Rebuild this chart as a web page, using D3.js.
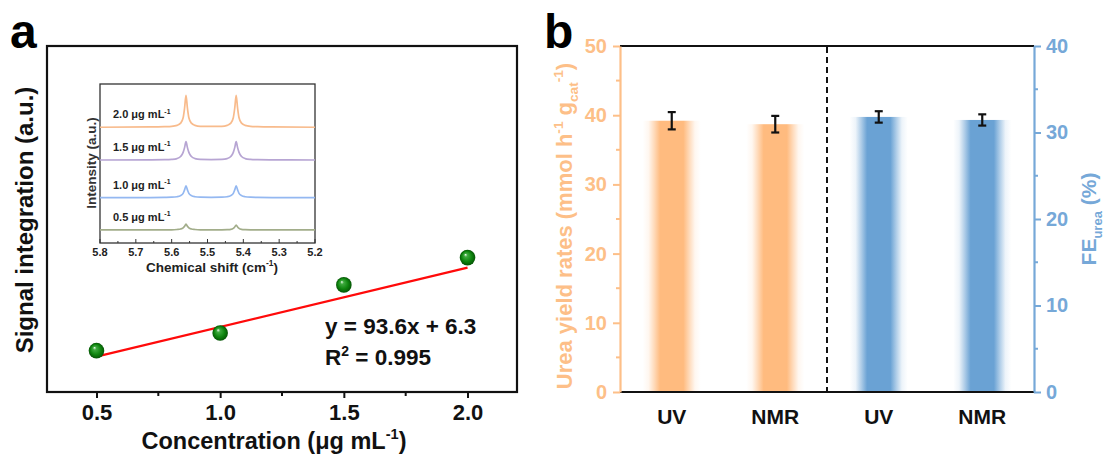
<!DOCTYPE html>
<html lang="en">
<head>
  <meta charset="UTF-8">
  <title>Urea calibration and yield</title>
  <script src="https://d3js.org/d3.v7.min.js"></script>
  <style>
    body, html {
      margin: 0;
      background-color: #ffffff;
    }
    svg text {
      font-family: Arial, 'Liberation Sans', sans-serif;
    }
  </style>
</head>
<body>
<svg id="chart" width="1105" height="457"></svg>

<script>
  // ---- panel a: calibration points ----
  const concentrations = [0.5, 1.0, 1.5, 2.0];
  const signals = [62.6, 90.4, 166.3, 209.3];
  const fitSlope = 93.6;
  const fitIntercept = 6.3;
  const xTicksA = [0.5, 1.0, 1.5, 2.0];

  // ---- panel a inset: NMR spectra (chemical shift grid + traces) ----
  const shifts = [5.80, 5.66, 5.62, 5.60, 5.585, 5.575, 5.568, 5.564, 5.56, 5.556, 5.552, 5.545, 5.535, 5.52, 5.49,
                  5.46, 5.445, 5.435, 5.428, 5.424, 5.42, 5.416, 5.412, 5.405, 5.395, 5.38, 5.36, 5.32, 5.20];
  const trace20 = [72.8, 73.0, 73.2, 73.4, 74.0, 75.4, 78.8, 84.8, 92.8, 84.8, 78.8, 75.4, 74.0, 73.4, 73.4,
                   73.4, 74.0, 75.4, 78.8, 84.8, 92.8, 84.8, 78.8, 75.4, 74.0, 73.4, 73.2, 73.0, 72.8];
  const trace15 = [52.2, 52.3, 52.4, 52.6, 53.1, 54.4, 57.0, 60.0, 63.7, 60.0, 57.0, 54.4, 53.1, 52.6, 52.5,
                   52.6, 53.1, 54.4, 57.0, 60.0, 63.7, 60.0, 57.0, 54.4, 53.1, 52.6, 52.4, 52.3, 52.2];
  const trace10 = [28.5, 28.6, 28.7, 28.8, 29.1, 29.8, 31.2, 33.4, 36.0, 33.4, 31.2, 29.8, 29.1, 28.8, 28.7,
                   28.8, 29.1, 29.8, 31.2, 33.4, 36.0, 33.4, 31.2, 29.8, 29.1, 28.8, 28.7, 28.6, 28.5];
  const trace05 = [8.2, 8.2, 8.3, 8.3, 8.5, 8.8, 9.5, 10.5, 11.9, 10.5, 9.5, 8.8, 8.5, 8.3, 8.3,
                   8.3, 8.4, 8.6, 9.2, 10.1, 11.3, 10.1, 9.2, 8.6, 8.4, 8.3, 8.3, 8.2, 8.2];
  const traceLabels = ["2.0", "1.5", "1.0", "0.5"];
  const traceColors = ["#f8bb8c", "#b7a5d3", "#94b8f1", "#a2ad8a"];
  const insetTicks = [5.8, 5.7, 5.6, 5.5, 5.4, 5.3, 5.2];

  // ---- panel b: yield rate and FE ----
  const methods = ["UV", "NMR", "UV", "NMR"];
  const yieldRates = [39.2, 38.7];
  const yieldErr = [1.25, 1.2];
  const feValues = [31.8, 31.45];
  const feErr = [0.66, 0.65];

  const orange = "#fdbf88";
  const orangeBar = "#ffbb7f";
  const blue = "#76a8d8";
  const blueBar = "#6aa2d4";

  const svg = d3.select("#chart");
  const defs = svg.append("defs");

  // helper for text with super/subscripts
  function rich(text, parts, size) {
    let shift = 0;
    parts.forEach(p => {
      const target = p.sup ? -0.42 * size : p.sub ? 0.28 * size : 0;
      text.append("tspan")
        .attr("dy", target - shift)
        .attr("font-size", p.sup || p.sub ? size * 0.62 : size)
        .text(p.t);
      shift = target;
    });
    return text;
  }

  // ================= panel a =================
  const xA = d3.scaleLinear().domain([0.3, 2.2]).range([47, 517]);
  const yA = d3.scaleLinear().domain([-2.6, 543]).range([392, 46]);

  const gA = svg.append("g");

  gA.append("rect")
    .attr("x", xA.range()[0]).attr("y", yA.range()[1])
    .attr("width", xA.range()[1] - xA.range()[0])
    .attr("height", yA.range()[0] - yA.range()[1])
    .attr("fill", "none").attr("stroke", "#111").attr("stroke-width", 2.2);

  const axA = gA.append("g")
    .attr("transform", `translate(0,${yA.range()[0]})`)
    .call(d3.axisBottom(xA).tickValues(xTicksA).tickFormat(d3.format(".1f")).tickSize(6).tickPadding(6));
  axA.select(".domain").remove();
  axA.selectAll(".tick line").attr("stroke", "#111").attr("stroke-width", 2);
  axA.selectAll(".tick text").attr("font-size", 22).attr("font-weight", "bold").attr("fill", "#111")
    .attr("font-family", "Arial, 'Liberation Sans', sans-serif");

  // minor ticks
  gA.selectAll(".minorA").data([0.75, 1.25, 1.75]).join("line")
    .attr("x1", d => xA(d)).attr("x2", d => xA(d))
    .attr("y1", yA.range()[0]).attr("y2", yA.range()[0] + 4)
    .attr("stroke", "#111").attr("stroke-width", 2);

  rich(gA.append("text")
    .attr("x", 274).attr("y", 449)
    .attr("text-anchor", "middle").attr("font-weight", "bold").attr("fill", "#111"),
    [{t: "Concentration (μg mL"}, {t: "-1", sup: true}, {t: ")"}], 23.5);

  gA.append("text")
    .attr("transform", "translate(33,220) rotate(-90)")
    .attr("text-anchor", "middle").attr("font-weight", "bold").attr("fill", "#111")
    .attr("font-size", 24)
    .text("Signal integration (a.u.)");

  // fit line
  gA.append("line")
    .attr("x1", xA(concentrations[0])).attr("y1", yA(fitSlope * concentrations[0] + fitIntercept))
    .attr("x2", xA(concentrations[3])).attr("y2", yA(fitSlope * concentrations[3] + fitIntercept))
    .attr("stroke", "#ff0a0a").attr("stroke-width", 2.2);

  // sphere markers
  const sphere = defs.append("radialGradient").attr("id", "sphere")
    .attr("cx", "50%").attr("cy", "50%").attr("r", "50%").attr("fx", "36%").attr("fy", "30%");
  sphere.append("stop").attr("offset", "0%").attr("stop-color", "#f2fff2");
  sphere.append("stop").attr("offset", "22%").attr("stop-color", "#3faa3f");
  sphere.append("stop").attr("offset", "65%").attr("stop-color", "#0f860f");
  sphere.append("stop").attr("offset", "100%").attr("stop-color", "#055505");

  gA.selectAll(".pt").data(concentrations).join("circle")
    .attr("cx", d => xA(d)).attr("cy", (d, i) => yA(signals[i]))
    .attr("r", 7.8).attr("fill", "url(#sphere)");

  gA.append("text").attr("x", 325).attr("y", 334)
    .attr("font-size", 22.5).attr("font-weight", "bold").attr("fill", "#111")
    .text(`y = ${fitSlope}x + ${fitIntercept}`);
  rich(gA.append("text").attr("x", 325).attr("y", 365).attr("font-weight", "bold").attr("fill", "#111"),
    [{t: "R"}, {t: "2", sup: true}, {t: " = 0.995"}], 22.5);

  // ---- inset ----
  const xI = d3.scaleLinear().domain([5.8, 5.2]).range([100, 315]);
  const yI = d3.scaleLinear().domain([0, 100]).range([243, 84]);

  const gI = svg.append("g");
  gI.append("rect")
    .attr("x", 100).attr("y", 84).attr("width", 215).attr("height", 159)
    .attr("fill", "none").attr("stroke", "#333").attr("stroke-width", 1.3);

  gI.selectAll(".itick").data(d3.range(0, 13).map(i => 5.8 - i * 0.05)).join("line")
    .attr("x1", d => xI(d)).attr("x2", d => xI(d))
    .attr("y1", 243).attr("y2", (d, i) => i % 2 === 0 ? 239 : 241)
    .attr("stroke", "#333").attr("stroke-width", 1);

  gI.selectAll(".ilab").data(insetTicks).join("text")
    .attr("x", d => xI(d)).attr("y", 256)
    .attr("text-anchor", "middle").attr("font-size", 11).attr("font-weight", "bold").attr("fill", "#222")
    .text(d => d.toFixed(1));

  rich(gI.append("text").attr("x", 212).attr("y", 272)
    .attr("text-anchor", "middle").attr("font-weight", "bold").attr("fill", "#222"),
    [{t: "Chemical shift (cm"}, {t: "-1", sup: true}, {t: ")"}], 13.5);

  gI.append("text")
    .attr("transform", "translate(96,163) rotate(-90)")
    .attr("text-anchor", "middle").attr("font-size", 13.5).attr("font-weight", 600).attr("fill", "#333")
    .text("Intensity (a.u.)");

  const spectrum = d3.line()
    .x((d, i) => xI(shifts[i]))
    .y(d => yI(d))
    .curve(d3.curveMonotoneX);

  const traces = [trace20, trace15, trace10, trace05];
  gI.selectAll(".trace").data(traces).join("path")
    .attr("d", spectrum)
    .attr("fill", "none")
    .attr("stroke", (d, i) => traceColors[i])
    .attr("stroke-width", 1.7);

  traces.forEach((tr, i) => {
    rich(gI.append("text").attr("x", 113).attr("y", yI(tr[0]) - 9)
      .attr("font-weight", "bold").attr("fill", "#222"),
      [{t: `${traceLabels[i]} μg mL`}, {t: "-1", sup: true}], 11);
  });

  // ================= panel b =================
  const xB = d3.scaleBand().domain(d3.range(methods.length)).range([620, 1034]);
  const yL = d3.scaleLinear().domain([0, 50]).range([392, 46]);
  const yR = d3.scaleLinear().domain([0, 40]).range([392, 46]);

  const gB = svg.append("g");

  // fading bar gradients
  [["fadeOrange", orangeBar], ["fadeBlue", blueBar]].forEach(([id, c]) => {
    const lg = defs.append("linearGradient").attr("id", id).attr("x1", "0%").attr("x2", "100%");
    [[0, 0], [0.1, 0.12], [0.2, 0.55], [0.3, 1], [0.7, 1], [0.8, 0.55], [0.9, 0.12], [1, 0]].forEach(([o, a]) => {
      lg.append("stop").attr("offset", o).attr("stop-color", c).attr("stop-opacity", a);
    });
  });

  const barW = 58;
  const bars = [
    {i: 0, v: yieldRates[0], e: yieldErr[0], y: yL, fill: "url(#fadeOrange)"},
    {i: 1, v: yieldRates[1], e: yieldErr[1], y: yL, fill: "url(#fadeOrange)"},
    {i: 2, v: feValues[0], e: feErr[0], y: yR, fill: "url(#fadeBlue)"},
    {i: 3, v: feValues[1], e: feErr[1], y: yR, fill: "url(#fadeBlue)"}
  ];
  const cx = i => xB(i) + xB.bandwidth() / 2;

  gB.selectAll(".bar").data(bars).join("rect")
    .attr("x", d => cx(d.i) - barW / 2).attr("width", barW)
    .attr("y", d => d.y(d.v)).attr("height", d => d.y(0) - d.y(d.v))
    .attr("fill", d => d.fill);

  // error bars
  const eb = gB.selectAll(".err").data(bars).join("g").attr("stroke", "#111").attr("stroke-width", 2.2);
  eb.append("line").attr("x1", d => cx(d.i)).attr("x2", d => cx(d.i))
    .attr("y1", d => d.y(d.v - d.e)).attr("y2", d => d.y(d.v + d.e));
  eb.append("line").attr("x1", d => cx(d.i) - 4).attr("x2", d => cx(d.i) + 4)
    .attr("y1", d => d.y(d.v + d.e)).attr("y2", d => d.y(d.v + d.e));
  eb.append("line").attr("x1", d => cx(d.i) - 4).attr("x2", d => cx(d.i) + 4)
    .attr("y1", d => d.y(d.v - d.e)).attr("y2", d => d.y(d.v - d.e));

  // frame: black top and bottom, coloured sides
  gB.append("line").attr("x1", 620).attr("x2", 1034).attr("y1", 46).attr("y2", 46)
    .attr("stroke", "#111").attr("stroke-width", 2.2);
  gB.append("line").attr("x1", 620).attr("x2", 1034).attr("y1", 392).attr("y2", 392)
    .attr("stroke", "#111").attr("stroke-width", 2.2);

  // dashed separator
  const sep = (cx(1) + cx(2)) / 2;
  gB.append("line").attr("x1", sep).attr("x2", sep).attr("y1", 47).attr("y2", 391)
    .attr("stroke", "#111").attr("stroke-width", 2).attr("stroke-dasharray", "6,4");

  // left axis
  const axL = gB.append("g").attr("transform", "translate(620,0)")
    .call(d3.axisLeft(yL).tickValues([0, 10, 20, 30, 40, 50]).tickSize(7).tickPadding(6).tickSizeOuter(0));
  axL.select(".domain").attr("stroke", orange).attr("stroke-width", 2.2);
  axL.selectAll(".tick line").attr("stroke", orange).attr("stroke-width", 2);
  axL.selectAll(".tick text").attr("fill", orange).attr("font-size", 20).attr("font-weight", "bold")
    .attr("font-family", "Arial, 'Liberation Sans', sans-serif");
  gB.selectAll(".minorL").data([5, 15, 25, 35, 45]).join("line")
    .attr("x1", 620).attr("x2", 616).attr("y1", d => yL(d)).attr("y2", d => yL(d))
    .attr("stroke", orange).attr("stroke-width", 2);

  // right axis
  const axR = gB.append("g").attr("transform", "translate(1034,0)")
    .call(d3.axisRight(yR).tickValues([0, 10, 20, 30, 40]).tickSize(7).tickPadding(5).tickSizeOuter(0));
  axR.select(".domain").attr("stroke", blue).attr("stroke-width", 2.2);
  axR.selectAll(".tick line").attr("stroke", blue).attr("stroke-width", 2);
  axR.selectAll(".tick text").attr("fill", blue).attr("font-size", 20).attr("font-weight", "bold")
    .attr("font-family", "Arial, 'Liberation Sans', sans-serif");
  gB.selectAll(".minorR").data([5, 15, 25, 35]).join("line")
    .attr("x1", 1034).attr("x2", 1038).attr("y1", d => yR(d)).attr("y2", d => yR(d))
    .attr("stroke", blue).attr("stroke-width", 2);

  // category labels
  gB.selectAll(".cat").data(methods).join("text")
    .attr("x", (d, i) => cx(i)).attr("y", 424)
    .attr("text-anchor", "middle").attr("font-size", 21).attr("font-weight", "bold").attr("fill", "#111")
    .text(d => d);

  // axis titles
  rich(gB.append("text")
    .attr("transform", "translate(572,226) rotate(-90)")
    .attr("text-anchor", "middle").attr("font-weight", "bold").attr("fill", orange),
    [{t: "Urea yield rates (mmol h"}, {t: "-1", sup: true}, {t: " g"}, {t: "cat", sub: true}, {t: "-1", sup: true}, {t: ")"}], 22);

  rich(gB.append("text")
    .attr("transform", "translate(1096,219) rotate(-90)")
    .attr("text-anchor", "middle").attr("font-weight", "bold").attr("fill", blue),
    [{t: "FE"}, {t: "urea", sub: true}, {t: " (%)"}], 21);

  // panel letters
  svg.append("text").attr("x", 10).attr("y", 48).attr("font-size", 48).attr("font-weight", "bold").attr("fill", "#000").text("a");
  svg.append("text").attr("x", 544).attr("y", 48).attr("font-size", 48).attr("font-weight", "bold").attr("fill", "#000").text("b");
</script>
</body>
</html>
